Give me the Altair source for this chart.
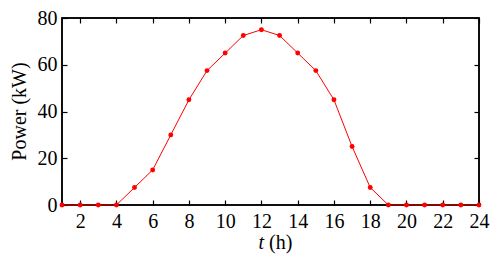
import altair as alt
import pandas as pd

hours = list(range(1, 25))
power = [0, 0, 0, 0, 7.5, 15, 30, 45, 57.5, 65, 72.5, 75, 72.5, 65, 57.5, 45, 25, 7.5, 0, 0, 0, 0, 0, 0]
x_ticks = list(range(2, 25, 2))
y_ticks = [0, 20, 40, 60, 80]
x_range = [1, 24]
y_range = [0, 80]

df = pd.DataFrame({"t": hours, "p": power})
FONT = "Liberation Serif"
FS = 20
W, H = 417, 187

xs = alt.Scale(domain=x_range, nice=False, zero=False)
ys = alt.Scale(domain=y_range, nice=False)

base = alt.Chart(df)

box = alt.Chart(pd.DataFrame({"x1": [x_range[0]], "x2": [x_range[1]], "y1": [y_range[0]], "y2": [y_range[1]]})).mark_rect(
    fillOpacity=0, stroke="#000000", strokeWidth=1.5, clip=False
).encode(
    x=alt.X("x1:Q", scale=xs, axis=None), x2="x2:Q",
    y=alt.Y("y1:Q", scale=ys, axis=None), y2="y2:Q",
)

line = base.mark_line(color="#ff0000", strokeWidth=1, clip=False).encode(
    x=alt.X("t:Q", scale=xs, axis=alt.Axis(orient="bottom", values=x_ticks, offset=-5, tickSize=5,
                                            domain=False, labelPadding=6, title=None, grid=False,
                                            labelFlush=False, labelOverlap=False,
                                            labelFont=FONT, labelFontSize=FS, labelColor="black",
                                            tickColor="#000000", tickWidth=1.2)),
    y=alt.Y("p:Q", scale=ys, axis=alt.Axis(orient="left", values=y_ticks, offset=-5, tickSize=5,
                                            domain=False, labelPadding=5, title=None, grid=False,
                                            labelFlush=False, labelOverlap=False,
                                            labelFont=FONT, labelFontSize=FS, labelColor="black",
                                            tickColor="#000000", tickWidth=1.2)),
)

pts = base.mark_circle(color="#ff0000", size=24, opacity=1, clip=False).encode(
    x=alt.X("t:Q", scale=xs, axis=alt.Axis(orient="top", values=x_ticks, offset=-5, tickSize=5,
                                            domain=False, labels=False, title=None, grid=False,
                                            tickColor="#000000", tickWidth=1.2)),
    y=alt.Y("p:Q", scale=ys, axis=alt.Axis(orient="right", values=y_ticks, offset=-5, tickSize=5,
                                            domain=False, labels=False, title=None, grid=False,
                                            tickColor="#000000", tickWidth=1.2)),
)

ytitle = alt.Chart(pd.DataFrame({"s": ["Power (kW)"]})).mark_text(
    font=FONT, fontSize=FS, angle=270, color="black", baseline="middle", align="center"
).encode(text="s:N", x=alt.value(-42), y=alt.value(H / 2))

t_lbl = alt.Chart(pd.DataFrame({"s": ["t"]})).mark_text(
    font=FONT, fontSize=FS, fontStyle="italic", color="black", baseline="middle", align="right"
).encode(text="s:N", x=alt.value(202), y=alt.value(225))

h_lbl = alt.Chart(pd.DataFrame({"s": ["(h)"]})).mark_text(
    font=FONT, fontSize=FS, color="black", baseline="middle", align="left"
).encode(text="s:N", x=alt.value(207), y=alt.value(225))

chart = alt.layer(box, line, pts, ytitle, t_lbl, h_lbl).resolve_scale(
    x="shared", y="shared").resolve_axis(x="independent", y="independent").properties(
    width=W, height=H,
    background="white",
    autosize=alt.AutoSizeParams(type="none"),
    padding={"left": 54, "top": 10, "right": 11, "bottom": 49},
).configure_view(stroke="#000000", strokeWidth=1.5)

chart.save("out.html", embed_options={"renderer": "svg", "actions": False})
